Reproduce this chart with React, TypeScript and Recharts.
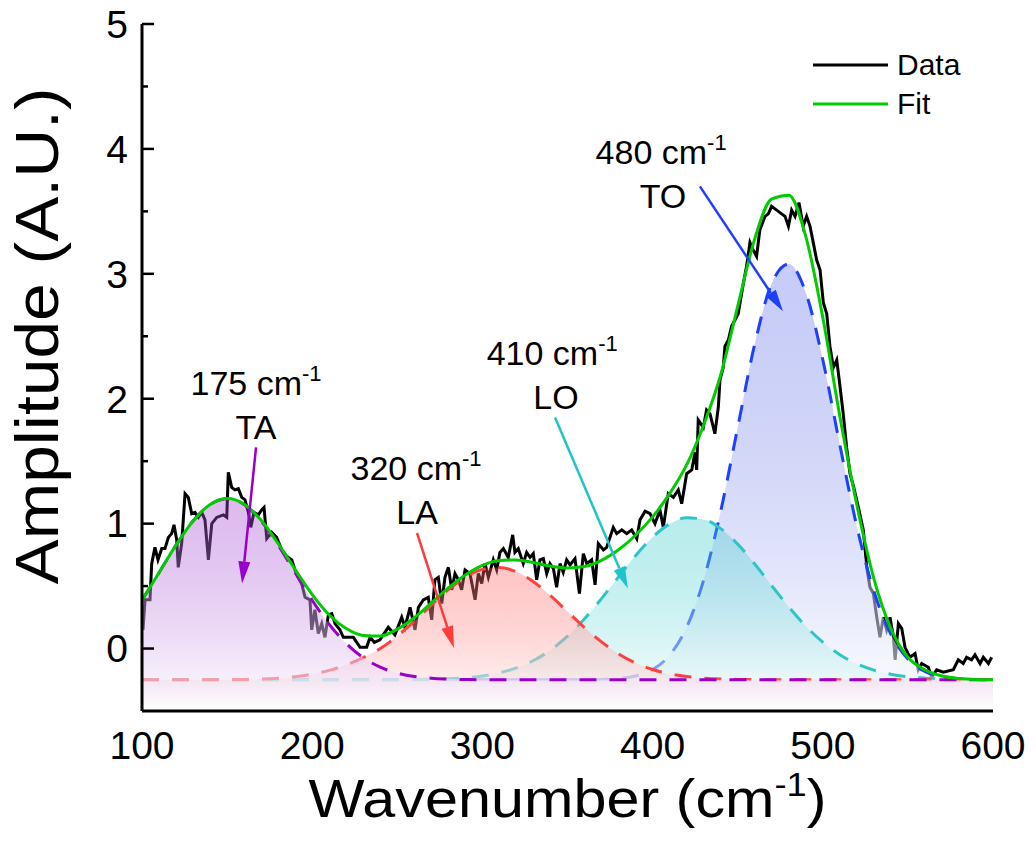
import React from "react";
import {
  ComposedChart,
  Line,
  Area,
  XAxis,
  YAxis,
  ReferenceLine,
  ReferenceDot,
  Legend,
  Label,
} from "recharts";

const FONT = "'Liberation Sans', Arial, Helvetica, sans-serif";

// measured spectrum
const dataWn = [
  100.6, 101.8, 104.7, 105.7, 107.6, 109.4, 111.6, 113.5, 115.5, 117.4,
  118.8, 120.4, 121.3, 123.3, 125.3, 127.2, 129.2, 131.1, 133.1, 135.1,
  137.0, 139.0, 141.0, 143.9, 147.8, 149.8, 150.7, 152.7, 154.6, 156.6,
  158.6, 160.5, 162.5, 163.9, 165.8, 168.3, 170.3, 171.7, 173.3, 176.2,
  179.1, 182.1, 185.0, 188.0, 189.9, 191.8, 193.8, 195.8, 198.7, 199.7,
  201.6, 203.6, 205.6, 207.5, 209.5, 211.5, 213.4, 216.3, 218.3, 222.2,
  224.2, 228.1, 232.0, 234.0, 236.5, 239.8, 244.7, 248.6, 252.6, 254.5,
  257.5, 260.4, 262.4, 265.3, 268.2, 270.2, 272.1, 274.1, 276.1, 278.0,
  280.0, 282.0, 283.9, 285.9, 287.8, 289.8, 292.7, 295.7, 297.6, 299.6,
  301.5, 303.5, 306.4, 308.4, 310.3, 312.3, 315.2, 317.8, 319.1, 321.1,
  324.0, 326.0, 328.0, 329.9, 331.9, 333.8, 335.8, 337.8, 339.7, 341.7,
  343.6, 345.6, 347.5, 349.5, 351.5, 354.4, 357.0, 359.3, 361.3, 364.2,
  366.2, 368.1, 371.1, 373.0, 376.9, 378.9, 381.9, 384.8, 387.7, 390.7,
  392.6, 395.6, 398.5, 401.4, 404.3, 406.3, 409.2, 412.2, 415.1, 417.1,
  420.0, 423.0, 424.9, 425.9, 426.8, 429.8, 431.7, 433.7, 436.6, 438.6,
  439.6, 441.5, 442.5, 444.5, 446.4, 448.4, 450.3, 453.3, 455.2, 457.2,
  459.1, 461.1, 463.0, 466.0, 468.0, 469.9, 472.9, 475.8, 477.8, 479.8,
  481.7, 483.7, 486.0, 488.5, 490.5, 492.5, 494.4, 496.4, 498.4, 500.3,
  502.3, 504.2, 506.2, 508.2, 510.1, 512.0, 514.0, 516.0, 518.0, 520.9,
  523.8, 525.8, 527.7, 529.7, 531.7, 533.6, 535.6, 537.5, 539.5, 541.5,
  542.5, 544.4, 546.4, 548.3, 551.2, 554.2, 556.1, 558.1, 562.0, 564.0,
  566.9, 570.8, 576.7, 579.6, 582.5, 584.5, 587.4, 589.4, 592.4, 594.3,
  597.3, 599.2,
];
const dataAmp = [
  0.15, 0.39, 0.39, 0.68, 0.81, 0.71, 0.8, 0.8, 0.89, 0.92,
  0.99, 0.87, 0.65, 0.84, 1.24, 1.21, 1.08, 1.09, 1.05, 1.09,
  1.03, 0.71, 1.0, 1.05, 1.07, 1.05, 1.41, 1.29, 1.27, 1.28,
  1.21, 1.19, 1.09, 0.97, 1.09, 1.07, 1.11, 1.13, 0.88, 0.93,
  0.89, 0.79, 0.74, 0.71, 0.63, 0.57, 0.52, 0.41, 0.39, 0.15,
  0.31, 0.12, 0.2, 0.09, 0.27, 0.28, 0.2, 0.15, 0.09, 0.09,
  0.09, 0.01, 0.01, 0.09, 0.05, 0.07, 0.17, 0.11, 0.25, 0.17,
  0.33, 0.15, 0.33, 0.39, 0.41, 0.23, 0.55, 0.57, 0.36, 0.57,
  0.65, 0.47, 0.6, 0.55, 0.47, 0.63, 0.6, 0.39, 0.6, 0.52,
  0.68, 0.57, 0.71, 0.63, 0.77, 0.8, 0.73, 0.91, 0.77, 0.8,
  0.68, 0.77, 0.73, 0.76, 0.55, 0.71, 0.72, 0.6, 0.68, 0.64,
  0.49, 0.68, 0.61, 0.71, 0.67, 0.72, 0.44, 0.76, 0.68, 0.71,
  0.51, 0.84, 0.79, 0.81, 0.97, 0.92, 0.95, 0.92, 0.95, 0.88,
  1.03, 1.1, 1.08, 1.0, 1.11, 0.97, 1.24, 1.21, 1.27, 1.16,
  1.4, 1.43, 1.57, 1.43, 1.83, 1.77, 1.91, 1.88, 1.72, 1.93,
  2.15, 2.25, 2.42, 2.47, 2.58, 2.63, 2.68, 2.92, 3.06, 3.25,
  3.19, 3.14, 3.35, 3.46, 3.48, 3.54, 3.51, 3.48, 3.46, 3.38,
  3.51, 3.46, 3.57, 3.38, 3.46, 3.38, 3.25, 3.11, 3.03, 2.77,
  2.68, 2.42, 2.25, 2.31, 2.1, 1.88, 1.61, 1.4, 1.3, 1.13,
  0.95, 0.65, 0.49, 0.44, 0.25, 0.09, 0.25, 0.15, 0.25, 0.09,
  -0.09, 0.2, 0.16, 0.01, -0.07, -0.04, -0.17, -0.12, -0.15, -0.23,
  -0.17, -0.19, -0.17, -0.09, -0.12, -0.07, -0.09, -0.05, -0.12, -0.07,
  -0.12, -0.07,
];

// fitted components and total fit, on a 10 cm-1 grid
const gridWn = [
  100, 110, 120, 130, 140, 150, 160, 170, 180, 190,
  200, 210, 220, 230, 240, 250, 260, 270, 280, 290,
  300, 310, 320, 330, 340, 350, 360, 370, 380, 390,
  400, 410, 420, 430, 440, 450, 460, 470, 480, 490,
  500, 510, 520, 530, 540, 550, 560, 570, 580, 590,
  600,
];
const taPeak = [
  0.387, 0.607, 0.828, 1.021, 1.153, 1.2, 1.153, 1.021, 0.828, 0.607,
  0.387, 0.194, 0.04, -0.073, -0.149, -0.196, -0.223, -0.237, -0.244, -0.248,
  -0.25, -0.25, -0.25, -0.25, -0.25, -0.25, -0.25, -0.25, -0.25, -0.25,
  -0.25, -0.25, -0.25, -0.25, -0.25, -0.25, -0.25, -0.25, -0.25, -0.25,
  -0.25, -0.25, -0.25, -0.25, -0.25, -0.25, -0.25, -0.25, -0.25, -0.25,
  -0.25,
];
const laPeak = [
  -0.25, -0.25, -0.25, -0.25, -0.25, -0.249, -0.247, -0.244, -0.237, -0.225,
  -0.205, -0.175, -0.13, -0.072, 0.0, 0.1, 0.218, 0.348, 0.471, 0.571,
  0.634, 0.649, 0.614, 0.535, 0.423, 0.296, 0.168, 0.053, -0.043, -0.116,
  -0.168, -0.203, -0.224, -0.237, -0.244, -0.247, -0.249, -0.25, -0.25, -0.25,
  -0.25, -0.25, -0.25, -0.25, -0.25, -0.25, -0.25, -0.25, -0.25, -0.25,
  -0.25,
];
const loPeak = [
  -0.25, -0.25, -0.25, -0.25, -0.25, -0.25, -0.25, -0.25, -0.25, -0.25,
  -0.25, -0.25, -0.25, -0.25, -0.25, -0.249, -0.248, -0.246, -0.242, -0.234,
  -0.219, -0.194, -0.155, -0.096, -0.013, 0.099, 0.238, 0.4, 0.574, 0.743,
  0.891, 0.997, 1.047, 1.034, 0.96, 0.836, 0.677, 0.503, 0.333, 0.179,
  0.051, -0.049, -0.123, -0.173, -0.206, -0.226, -0.237, -0.244, -0.247, -0.249,
  -0.25,
];
const toPeak = [
  -0.25, -0.25, -0.25, -0.25, -0.25, -0.25, -0.25, -0.25, -0.25, -0.25,
  -0.25, -0.25, -0.25, -0.25, -0.25, -0.25, -0.25, -0.25, -0.25, -0.25,
  -0.25, -0.25, -0.25, -0.25, -0.25, -0.25, -0.25, -0.247, -0.24, -0.22,
  -0.169, -0.054, 0.17, 0.549, 1.098, 1.77, 2.437, 2.923, 3.078, 2.849,
  2.312, 1.631, 0.976, 0.459, 0.115, -0.084, -0.183, -0.226, -0.242, -0.248,
  -0.249,
];
const fitAmp = [
  0.387, 0.607, 0.828, 1.021, 1.153, 1.201, 1.156, 1.027, 0.841, 0.632,
  0.432, 0.269, 0.16, 0.105, 0.101, 0.155, 0.247, 0.365, 0.485, 0.589,
  0.666, 0.705, 0.709, 0.689, 0.66, 0.645, 0.656, 0.706, 0.791, 0.907,
  1.054, 1.24, 1.47, 1.79, 2.19, 2.74, 3.28, 3.6, 3.63, 3.3,
  2.65, 1.86, 1.15, 0.56, 0.16, -0.07, -0.17, -0.22, -0.239, -0.247,
  -0.249,
];

const xTicks = [100, 200, 300, 400, 500, 600];
const xMinorTicks = [
  100, 120, 140, 160, 180, 200, 220, 240, 260, 280, 300, 320, 340,
  360, 380, 400, 420, 440, 460, 480, 500, 520, 540, 560, 580, 600,
];
const yTicks = [0, 0.5, 1, 1.5, 2, 2.5, 3, 3.5, 4, 4.5, 5];
const legendNames = ["Data", "Fit"];

const peakNotes = [
  { wn: 167, amp: 2.03, text: "175 cm", sup: "-1" },
  { wn: 167, amp: 1.68, text: "TA", sup: "" },
  { wn: 261, amp: 1.35, text: "320 cm", sup: "-1" },
  { wn: 261.6, amp: 1.0, text: "LA", sup: "" },
  { wn: 341, amp: 2.27, text: "410 cm", sup: "-1" },
  { wn: 343.2, amp: 1.92, text: "LO", sup: "" },
  { wn: 405, amp: 3.88, text: "480 cm", sup: "-1" },
  { wn: 406.1, amp: 3.53, text: "TO", sup: "" },
];

const pointers = [
  { from: [167, 1.61], to: [158.8, 0.52], color: "#9900cc" },
  { from: [261.6, 0.925], to: [283.3, 0.004], color: "#ff3b3b" },
  { from: [342.7, 1.85], to: [385.5, 0.48], color: "#1ec4c8" },
  { from: [427.8, 3.7], to: [476.6, 2.7], color: "#1f3fff" },
];

const rows = [
  ...gridWn.map((wn, i) => ({
    wn,
    ta: taPeak[i],
    la: laPeak[i],
    lo: loPeak[i],
    to: toPeak[i],
    fit: fitAmp[i],
  })),
  ...dataWn.map((wn, i) => ({ wn, data: dataAmp[i] })),
].sort((a, b) => a.wn - b.wn);

const arrowShape = (color: string) => (p: any) => {
  const { x1, y1, x2, y2 } = p;
  const a = Math.atan2(y2 - y1, x2 - x1);
  const len = 22;
  const half = 6;
  const bx = x2 - len * Math.cos(a);
  const by = y2 - len * Math.sin(a);
  const nx = -Math.sin(a) * half;
  const ny = Math.cos(a) * half;
  return (
    <g>
      <line x1={x1} y1={y1} x2={bx} y2={by} stroke={color} strokeWidth={2.5} />
      <polygon
        points={`${x2},${y2} ${bx + nx},${by + ny} ${bx - nx},${by - ny}`}
        fill={color}
      />
    </g>
  );
};

const LeftTick = (p: any) => {
  const v = p.payload.value;
  const ax = p.x + 14;
  const major = Number.isInteger(v);
  return (
    <g>
      <line x1={ax} y1={p.y} x2={ax + (major ? 12 : 6)} y2={p.y} stroke="#000" strokeWidth={2.5} />
      {major && (
        <text x={p.x} y={p.y} dy="0.355em" textAnchor="end" fontSize={39} fontFamily={FONT} fill="#000">
          {v}
        </text>
      )}
    </g>
  );
};

const RightTick = (p: any) => (
  <line x1={p.x} y1={p.y} x2={p.x - 12} y2={p.y} stroke="#000" strokeWidth={2.5} />
);

const TopTick = (p: any) => {
  const major = p.payload.value % 100 === 0;
  return <line x1={p.x} y1={p.y} x2={p.x} y2={p.y + (major ? 12 : 6)} stroke="#000" strokeWidth={2.5} />;
};

const LegendBox = ({ payload }: any) => (
  <div style={{ fontFamily: FONT, width: 200 }}>
    {(payload || [])
      .filter((p: any) => legendNames.includes(p.value))
      .map((p: any) => (
        <div key={p.value} style={{ display: "flex", alignItems: "center", height: 39, whiteSpace: "nowrap" }}>
          <svg width={75} height={6} style={{ flexShrink: 0, display: "block" }}>
            <line
              x1={0}
              y1={3}
              x2={75}
              y2={3}
              stroke={p.value === "Fit" ? "#00cc00" : "#000000"}
              strokeWidth={3}
            />
          </svg>
          <span style={{ marginLeft: 9, fontSize: 30, lineHeight: "39px", color: "#000" }}>{p.value}</span>
        </div>
      ))}
  </div>
);

const areaCommon = {
  type: "monotone" as const,
  strokeWidth: 3,
  strokeDasharray: "17 13",
  fillOpacity: 1,
  baseValue: "dataMin" as const,
  connectNulls: true,
  isAnimationActive: false,
  dot: false,
  activeDot: false,
  legendType: "none" as const,
};

export default function App() {
  return (
    <div style={{ position: "absolute", left: 0, top: 0, width: 1036, height: 845, background: "#fff" }}>
      <ComposedChart width={1036} height={845} data={rows} margin={{ top: 24, right: 42, bottom: 74, left: 62 }}>
        <defs>
          <linearGradient id="gTO" x1="0" y1="0" x2="0" y2="1">
            <stop offset="0%" stopColor="#4e61e6" stopOpacity={0.32} />
            <stop offset="100%" stopColor="#ffffff" stopOpacity={0.6} />
          </linearGradient>
          <linearGradient id="gLO" x1="0" y1="0" x2="0" y2="1">
            <stop offset="0%" stopColor="#30c8c8" stopOpacity={0.34} />
            <stop offset="100%" stopColor="#ffffff" stopOpacity={0.6} />
          </linearGradient>
          <linearGradient id="gLA" x1="0" y1="0" x2="0" y2="1">
            <stop offset="0%" stopColor="#ff6060" stopOpacity={0.36} />
            <stop offset="100%" stopColor="#ffffff" stopOpacity={0.6} />
          </linearGradient>
          <linearGradient id="gTA" x1="0" y1="0" x2="0" y2="1">
            <stop offset="0%" stopColor="#a040d0" stopOpacity={0.36} />
            <stop offset="100%" stopColor="#ffffff" stopOpacity={0.6} />
          </linearGradient>
        </defs>

        <Line
          name="Data"
          dataKey="data"
          type="linear"
          stroke="#000"
          strokeWidth={3}
          dot={false}
          activeDot={false}
          connectNulls
          isAnimationActive={false}
          zIndex={50}
        />
        <Area {...areaCommon} dataKey="to" stroke="#1f3fff" fill="url(#gTO)" />
        <Area {...areaCommon} dataKey="lo" stroke="#2ec4c8" fill="url(#gLO)" />
        <Area {...areaCommon} dataKey="la" stroke="#ff4040" fill="url(#gLA)" />
        <Area {...areaCommon} dataKey="ta" stroke="#9900cc" fill="url(#gTA)" />
        <Line
          name="Fit"
          dataKey="fit"
          type="monotone"
          stroke="#00cc00"
          strokeWidth={3}
          dot={false}
          activeDot={false}
          connectNulls
          isAnimationActive={false}
        />

        {pointers.map((a, i) => (
          <ReferenceLine
            key={"ar" + i}
            segment={[
              { x: a.from[0], y: a.from[1] },
              { x: a.to[0], y: a.to[1] },
            ]}
            shape={arrowShape(a.color)}
          />
        ))}
        {peakNotes.map((n, i) => (
          <ReferenceDot
            key={"pn" + i}
            x={n.wn}
            y={n.amp}
            r={0}
            shape={(p: any) => (
              <text x={p.cx} y={p.cy} textAnchor="middle" fontSize={34} fontFamily={FONT} fill="#000">
                {n.text}
                {n.sup && (
                  <tspan dy={-14} fontSize={22}>
                    {n.sup}
                  </tspan>
                )}
              </text>
            )}
          />
        ))}

        <Legend
          layout="vertical"
          align="right"
          verticalAlign="top"
          content={<LegendBox />}
          wrapperStyle={{ position: "absolute", left: 813, top: 45, width: 1, height: 1, overflow: "visible" }}
        />

        <XAxis
          dataKey="wn"
          type="number"
          domain={[100, 600]}
          ticks={xTicks}
          interval={0}
          allowDataOverflow
          height={60}
          tickLine={false}
          tickSize={0}
          tickMargin={20}
          axisLine={{ stroke: "#000", strokeWidth: 3 }}
          tick={{ fontSize: 39, fill: "#000", fontFamily: FONT }}
        >
          <Label
            content={({ viewBox }: any) => (
              <text
                x={viewBox.x + viewBox.width / 2}
                y={viewBox.y + 106}
                textAnchor="middle"
                fontSize={54}
                textLength={518}
                lengthAdjust="spacingAndGlyphs"
                fontFamily={FONT}
                fill="#000"
              >
                Wavenumber (cm
                <tspan dy={-21} fontSize={33}>
                  -1
                </tspan>
                <tspan dy={21} fontSize={54}>
                  )
                </tspan>
              </text>
            )}
          />
        </XAxis>
        <XAxis
          xAxisId="top"
          orientation="top"
          type="number"
          domain={[100, 600]}
          ticks={xMinorTicks}
          interval={0}
          allowDataOverflow
          height={0}
          tickLine={false}
          tickSize={0}
          tickMargin={0}
          axisLine={{ stroke: "#000", strokeWidth: 3 }}
          tick={<TopTick />}
        />
        <YAxis
          type="number"
          domain={[-0.5, 5]}
          ticks={yTicks}
          interval={0}
          allowDataOverflow
          width={80}
          tickLine={false}
          tickSize={0}
          tickMargin={14}
          axisLine={{ stroke: "#000", strokeWidth: 3 }}
          tick={<LeftTick />}
        >
          <Label
            content={({ viewBox }: any) => (
              <text
                x={viewBox.x - 4}
                y={viewBox.y + 312}
                transform={`rotate(-90, ${viewBox.x - 4}, ${viewBox.y + 312})`}
                textAnchor="middle"
                fontSize={61}
                textLength={497}
                lengthAdjust="spacingAndGlyphs"
                fontFamily={FONT}
                fill="#000"
              >
                Amplitude (A.U.)
              </text>
            )}
          />
        </YAxis>
        <YAxis
          yAxisId="right"
          orientation="right"
          type="number"
          domain={[-0.5, 5]}
          ticks={yTicks}
          interval={0}
          allowDataOverflow
          width={0}
          tickLine={false}
          tickSize={0}
          tickMargin={0}
          axisLine={{ stroke: "#000", strokeWidth: 3 }}
          tick={<RightTick />}
        />
      </ComposedChart>
    </div>
  );
}
